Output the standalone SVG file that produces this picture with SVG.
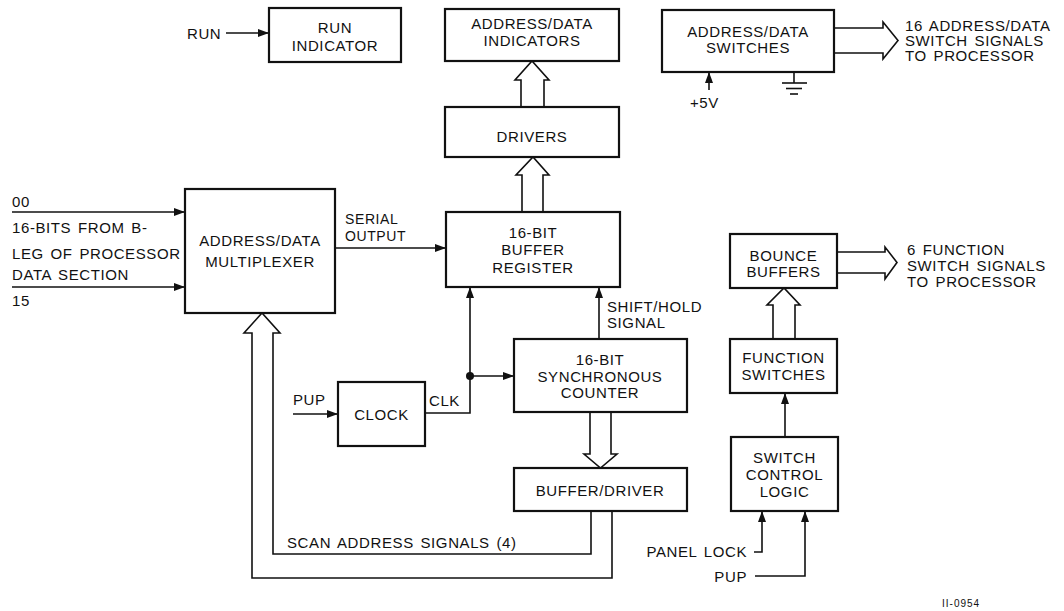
<svg xmlns="http://www.w3.org/2000/svg" width="1064" height="611" viewBox="0 0 1064 611">
<style>
text{font-family:"Liberation Sans",Arial,sans-serif;font-size:15px;letter-spacing:0.6px;word-spacing:2px;fill:#111}
.c{text-anchor:middle}
.e{text-anchor:end}
.s{font-size:14px}
.box{fill:#fff;stroke:#111;stroke-width:2.2}
.ln{fill:none;stroke:#111;stroke-width:1.6}
.hol{fill:#fff;stroke:#111;stroke-width:1.6;stroke-linejoin:miter}
.arr{fill:none;stroke:#111;stroke-width:1.6;marker-end:url(#ah)}
</style>
<defs>
<marker id="ah" markerUnits="userSpaceOnUse" markerWidth="12" markerHeight="10" refX="11" refY="4" orient="auto">
<path d="M0,0 L11,4 L0,8 Z" fill="#111"/>
</marker>
</defs>
<rect width="1064" height="611" fill="#fff"/>

<g id="connectors">
<line class="arr" x1="226" y1="33" x2="269" y2="33"/>
<line class="arr" x1="12" y1="212" x2="185" y2="212"/>
<line class="arr" x1="12" y1="287" x2="185" y2="287"/>
<line class="arr" x1="335" y1="248" x2="446" y2="248"/>
<line class="arr" x1="293" y1="414" x2="338" y2="414"/>
<path class="ln" d="M425,413 L470,413 L470,376"/>
<line class="arr" x1="470" y1="376" x2="470" y2="287"/>
<line class="arr" x1="470" y1="376" x2="514" y2="376"/>
<circle cx="470" cy="376" r="4" fill="#111"/>
<line class="arr" x1="599" y1="339" x2="599" y2="287"/>
<line class="arr" x1="709" y1="90" x2="709" y2="72"/>
<line class="ln" x1="794" y1="72" x2="794" y2="83"/>
<line class="ln" x1="782" y1="83" x2="807" y2="83"/>
<line class="ln" x1="786" y1="88.5" x2="802" y2="88.5"/>
<line class="ln" x1="790" y1="94" x2="798" y2="94"/>
<line class="arr" x1="785" y1="437" x2="785" y2="393"/>
<path class="arr" d="M754,552 L762,552 L762,511"/>
<path class="arr" d="M755,576 L805,576 L805,511"/>
<path class="hol" d="M521,107 L521,80 L515,80 L532,61 L549,80 L544,80 L544,107"/>
<path class="hol" d="M522,212 L522,175 L516,175 L533,157 L549,175 L543,175 L543,212"/>
<path class="hol" d="M834,28 L883,28 L883,22 L898,40.5 L883,59 L883,53 L834,53"/>
<path class="hol" d="M837,252 L885,252 L885,247 L897,262.5 L885,279 L885,273 L837,273"/>
<path class="hol" d="M773,339 L773,305 L767,305 L784,288 L800,305 L795,305 L795,339"/>
<path class="hol" d="M590,412 L590,454 L584,454 L600.5,468 L617,454 L611,454 L611,412"/>
<path class="ln" d="M612,511 L612,578 L252,578 L252,333 L244,333 L262,313 L280,333 L273,333 L273,554 L591,554 L591,511"/>
</g>

<g id="run-indicator">
<rect class="box" x="269" y="8" width="132" height="54"/>
<text class="c" x="335" y="33">RUN</text>
<text class="c" x="335" y="51">INDICATOR</text>
</g>
<text x="187" y="39">RUN</text>

<g id="ad-indicators">
<rect class="box" x="445" y="9" width="174" height="52"/>
<text class="c" x="532" y="29">ADDRESS/DATA</text>
<text class="c" x="532" y="46">INDICATORS</text>
</g>

<g id="drivers">
<rect class="box" x="445" y="107" width="174" height="50"/>
<text class="c" x="532" y="142">DRIVERS</text>
</g>

<g id="ad-switches">
<rect class="box" x="662" y="10" width="172" height="62"/>
<text class="c" x="748" y="37">ADDRESS/DATA</text>
<text class="c" x="748" y="53">SWITCHES</text>
</g>
<text x="690" y="108">+5V</text>
<text x="905" y="31">16 ADDRESS/DATA</text>
<text x="905" y="46">SWITCH SIGNALS</text>
<text x="905" y="61">TO PROCESSOR</text>

<g id="multiplexer">
<rect class="box" x="185" y="189" width="150" height="124"/>
<text class="c" x="260" y="246">ADDRESS/DATA</text>
<text class="c" x="260" y="267">MULTIPLEXER</text>
</g>
<text x="12" y="207">00</text>
<text x="12" y="233">16-BITS FROM B-</text>
<text x="12" y="259">LEG OF PROCESSOR</text>
<text x="12" y="280">DATA SECTION</text>
<text x="12" y="306">15</text>
<text class="s" x="345" y="224">SERIAL</text>
<text class="s" x="345" y="241">OUTPUT</text>

<g id="buffer-register">
<rect class="box" x="446" y="212" width="174" height="75"/>
<text class="c" x="533" y="238">16-BIT</text>
<text class="c" x="533" y="255">BUFFER</text>
<text class="c" x="533" y="273">REGISTER</text>
</g>
<text x="607" y="312">SHIFT/HOLD</text>
<text x="607" y="328">SIGNAL</text>

<g id="counter">
<rect class="box" x="514" y="339" width="173" height="73"/>
<text class="c" x="600" y="365">16-BIT</text>
<text class="c" x="600" y="382">SYNCHRONOUS</text>
<text class="c" x="600" y="398">COUNTER</text>
</g>

<g id="clock">
<rect class="box" x="338" y="382" width="87" height="64"/>
<text class="c" x="381.5" y="420">CLOCK</text>
</g>
<text x="293" y="405">PUP</text>
<text x="429" y="406">CLK</text>

<g id="buffer-driver">
<rect class="box" x="514" y="468" width="173" height="43"/>
<text class="c" x="600" y="496">BUFFER/DRIVER</text>
</g>
<text x="287" y="548">SCAN ADDRESS SIGNALS (4)</text>

<g id="bounce-buffers">
<rect class="box" x="730" y="234" width="107" height="54"/>
<text class="c" x="783.5" y="261">BOUNCE</text>
<text class="c" x="783.5" y="277">BUFFERS</text>
</g>
<text x="907" y="255">6 FUNCTION</text>
<text x="907" y="271">SWITCH SIGNALS</text>
<text x="907" y="287">TO PROCESSOR</text>

<g id="function-switches">
<rect class="box" x="730" y="339" width="107" height="54"/>
<text class="c" x="783.5" y="363">FUNCTION</text>
<text class="c" x="783.5" y="380">SWITCHES</text>
</g>

<g id="switch-control-logic">
<rect class="box" x="731" y="437" width="107" height="74"/>
<text class="c" x="784.5" y="463">SWITCH</text>
<text class="c" x="784.5" y="480">CONTROL</text>
<text class="c" x="784.5" y="497">LOGIC</text>
</g>
<text class="e" x="747" y="557">PANEL LOCK</text>
<text class="e" x="747" y="582">PUP</text>

<text x="942" y="607" style="font-size:10px;letter-spacing:1px">II-0954</text>
</svg>
